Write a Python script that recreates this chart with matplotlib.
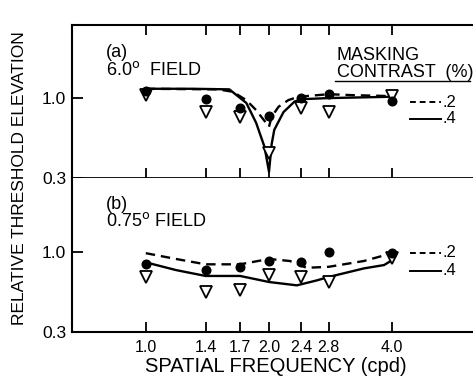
import matplotlib
matplotlib.use('Agg')
import matplotlib.pyplot as plt
from matplotlib.ticker import NullLocator, FixedLocator

plt.rcParams['font.family'] = ['Liberation Sans', 'DejaVu Sans']

freq_ticks = [1.0, 1.4, 1.7, 2.0, 2.4, 2.8, 4.0]
freq_labels = ["1.0", "1.4", "1.7", "2.0", "2.4", "2.8", "4.0"]

# panel (a): 6.0 deg field
a_circle = [1.12, 0.985, 0.856, 0.766, 0.995, 1.06, 0.96]
a_tri = [1.05, 0.81, 0.755, 0.435, 0.856, 0.806, 1.03]
a_dash_x = [1.0, 1.5, 1.63, 1.76, 1.86, 2.0, 2.03, 2.11, 2.23, 2.36, 2.8, 3.19, 4.0]
a_dash_y = [1.15, 1.14, 1.10, 0.97, 0.835, 0.65, 0.755, 0.877, 0.97, 1.02, 1.06, 1.045, 1.03]
a_solid_x = [1.0, 1.3, 1.6, 1.76, 1.86, 1.95, 2.0, 2.03, 2.06, 2.17, 2.31, 2.44, 2.8, 4.0]
a_solid_y = [1.15, 1.15, 1.14, 0.93, 0.69, 0.48, 0.33, 0.50, 0.62, 0.81, 0.95, 0.985, 1.0, 1.02]

# panel (b): 0.75 deg field
b_circle = [0.826, 0.758, 0.796, 0.868, 0.859, 1.0, 0.976]
b_tri = [0.684, 0.545, 0.56, 0.70, 0.684, 0.634, 0.913]
b_dash_x = [1.0, 1.185, 1.4, 1.7, 2.0, 2.25, 2.47, 2.8, 3.41, 4.0]
b_dash_y = [0.976, 0.895, 0.826, 0.826, 0.895, 0.868, 0.784, 0.796, 0.868, 0.976]
b_solid_x = [1.0, 1.185, 1.4, 1.7, 2.0, 2.34, 2.62, 2.8, 3.41, 3.82, 4.0]
b_solid_y = [0.851, 0.758, 0.694, 0.694, 0.634, 0.603, 0.65, 0.684, 0.777, 0.817, 0.88]

fig = plt.figure(figsize=(4.73, 3.79), dpi=100, facecolor='white')
ax_a = fig.add_axes([0.152, 0.530, 0.848, 0.404])
ax_b = fig.add_axes([0.152, 0.124, 0.848, 0.406])

panels = [
    (ax_a, a_circle, a_tri, a_dash_x, a_dash_y, a_solid_x, a_solid_y,
     "(a)", "6.0$^{\\rm o}$  FIELD", 1.845, 1.41, 0.94, 0.73),
    (ax_b, b_circle, b_tri, b_dash_x, b_dash_y, b_solid_x, b_solid_y,
     "(b)", "0.75$^{\\rm o}$ FIELD", 1.885, 1.46, 0.985, 0.75),
]

for ax, circ, tri, dx, dy, sx, sy, lab1, lab2, y1, y2, ly1, ly2 in panels:
    ax.set_xscale('log')
    ax.set_yscale('log')
    ax.set_xlim(0.66, 6.3)
    ax.set_ylim(0.3, 3.0)
    ax.plot(dx, dy, color='black', lw=1.7, ls=(0, (4, 2.5)))
    ax.plot(sx, sy, color='black', lw=1.7)
    ax.plot(freq_ticks, tri, ls='none', marker='v', ms=8.5, mfc='white', mec='black', mew=1.3)
    ax.plot(freq_ticks, circ, ls='none', marker='o', ms=6.2, color='black')
    ax.spines['right'].set_visible(False)
    for s in ['left', 'top', 'bottom']:
        ax.spines[s].set_linewidth(1.5)
    ax.xaxis.set_major_locator(FixedLocator(freq_ticks))
    ax.xaxis.set_minor_locator(NullLocator())
    ax.yaxis.set_major_locator(FixedLocator([0.3, 1.0]))
    ax.yaxis.set_minor_locator(NullLocator())
    ax.set_yticklabels(["0.3", "1.0"], fontsize=12.5)
    ax.tick_params(axis='y', direction='in', length=8, width=1.3, pad=4)
    ax.tick_params(axis='x', direction='in', length=7, width=1.3)
    ax.text(0.80, y1, lab1, fontsize=13, ha='left', va='baseline')
    ax.text(0.80, y2, lab2, fontsize=13, ha='left', va='baseline')
    # legend lines
    ax.plot([4.43, 5.25], [ly1, ly1], color='black', lw=1.4, ls=(0, (3, 2)), clip_on=False)
    ax.plot([4.43, 5.25], [ly2, ly2], color='black', lw=1.4, clip_on=False)
    ax.text(5.3, ly1, ".2", fontsize=12, ha='left', va='center')
    ax.text(5.3, ly2, ".4", fontsize=12, ha='left', va='center')

ax_a.tick_params(axis='x', top=True, bottom=True, labelbottom=False)
ax_a.spines['bottom'].set_linewidth(1.3)
ax_b.spines['top'].set_visible(False)
ax_b.set_xticklabels(freq_labels, fontsize=11.5)
ax_b.tick_params(axis='x', pad=6)

ax_a.text(2.93, 1.77, "MASKING", fontsize=13, ha='left', va='baseline')
ax_a.text(2.93, 1.378, "CONTRAST  (%)", fontsize=13, ha='left', va='baseline')
ax_a.plot([2.9, 6.2], [1.30, 1.30], color='black', lw=1.0)

fig.text(0.584, 0.034, "SPATIAL FREQUENCY (cpd)", fontsize=14.5,
         ha='center', va='center')
fig.text(0.042, 0.53, "RELATIVE THRESHOLD ELEVATION", rotation=90,
         fontsize=12.5, ha='center', va='center')

plt.savefig("out.png", dpi=100, facecolor='white')
